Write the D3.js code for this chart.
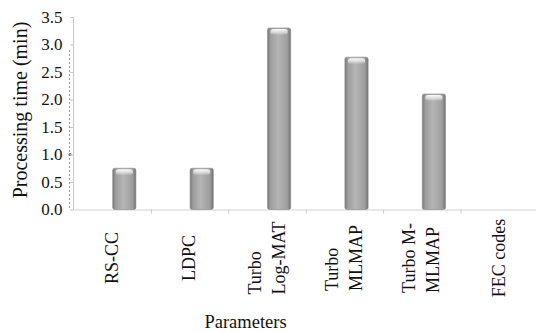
<!DOCTYPE html>
<html>
<head>
<meta charset="utf-8">
<script src="https://cdn.jsdelivr.net/npm/d3@7"></script>
<style>
  html, body { margin: 0; padding: 0; background: #fff; }
  svg { display: block; }
  text { font-family: "Liberation Serif", "Times New Roman", serif; fill: #111; }
</style>
</head>
<body>
<svg id="chart" width="536" height="331"></svg>
<script>
// Processing time per FEC scheme (minutes)
const categories = ["RS-CC", "LDPC", "Turbo Log-MAT", "Turbo MLMAP", "Turbo M-MLMAP", "FEC codes"];
const labelLines = [["RS-CC"], ["LDPC"], ["Turbo", "Log-MAT"], ["Turbo", "MLMAP"], ["Turbo M-", "MLMAP"], ["FEC codes"]];
const times = [0.75, 0.75, 3.3, 2.77, 2.1, null];
const yTicks = [0, 0.5, 1.0, 1.5, 2.0, 2.5, 3.0, 3.5];
const yTitle = "Processing time (min)";
const xTitle = "Parameters";

(function () {
const svg = d3.select("#chart");
const plotLeft = 74, plotBottom = 209.5, plotTop = 17, bandW = 77.4;
const serif = "Liberation Serif, Times New Roman, serif";

const x = d3.scaleBand().domain(categories).range([plotLeft, plotLeft + bandW * categories.length]).padding(0);
const y = d3.scaleLinear().domain([0, 3.5]).range([plotBottom, plotTop]);

// bar fill: bevelled grey
const defs = svg.append("defs");
const g1 = defs.append("linearGradient").attr("id", "barFill").attr("x1", 0).attr("x2", 1).attr("y1", 0).attr("y2", 0);
[[0, "#777777"], [0.12, "#9c9c9c"], [0.45, "#b5b5b5"], [0.85, "#9e9e9e"], [1, "#737373"]]
  .forEach(([o, c]) => g1.append("stop").attr("offset", o).attr("stop-color", c));
const g2 = defs.append("linearGradient").attr("id", "capFill").attr("x1", 0).attr("x2", 0).attr("y1", 0).attr("y2", 1);
[[0, "#ffffff", 0.95], [0.6, "#ffffff", 0.5], [1, "#ffffff", 0]]
  .forEach(([o, c, a]) => g2.append("stop").attr("offset", o).attr("stop-color", c).attr("stop-opacity", a));

// dotted guide left of the value axis
svg.append("line")
  .attr("x1", 69.5).attr("x2", 69.5).attr("y1", 50).attr("y2", plotBottom)
  .attr("stroke", "#9a9a9a").attr("stroke-width", 1).attr("stroke-dasharray", "2,2");
svg.append("circle").attr("cx", 70).attr("cy", y(1.0)).attr("r", 1.6).attr("fill", "#777");

// value axis
const yAxis = svg.append("g").attr("transform", `translate(${plotLeft},0)`)
  .call(d3.axisLeft(y).tickValues(yTicks).tickFormat(d3.format(".1f")).tickSize(4).tickPadding(7.5));
yAxis.attr("font-family", serif);
yAxis.select(".domain").attr("stroke", "#c8c8c8").attr("d", `M-0.5,${plotTop}V${plotBottom}`);
yAxis.selectAll(".tick line").attr("stroke", "#c8c8c8");
yAxis.selectAll(".tick text").attr("font-size", 17).attr("fill", "#111").attr("font-family", serif);

// category axis
const xAxis = svg.append("g").attr("transform", `translate(0,${plotBottom})`)
  .call(d3.axisBottom(x).tickValues([]).tickSizeOuter(0));
xAxis.select(".domain").attr("stroke", "#d2d2d2").attr("d", `M${plotLeft},0.5H536`);
const bounds = categories.slice(1).map(c => x(c));
xAxis.selectAll("line.sep").data(bounds).enter().append("line").attr("class", "sep")
  .attr("x1", d => d).attr("x2", d => d).attr("y1", 0).attr("y2", 4)
  .attr("stroke", "#c8c8c8");

// bars sit in the right half of each category slot
const barW = x.bandwidth() * 0.3;
const bars = svg.append("g").selectAll("g").data(categories.map((c, i) => ({c, v: times[i]})).filter(d => d.v != null))
  .enter().append("g");
bars.append("rect")
  .attr("x", d => x(d.c) + x.bandwidth() / 2)
  .attr("y", d => y(d.v))
  .attr("width", barW)
  .attr("height", d => y(0) - y(d.v))
  .attr("rx", 2)
  .attr("fill", "url(#barFill)")
  .attr("stroke", "#8a8a8a").attr("stroke-width", 0.6);
bars.append("rect")
  .attr("x", d => x(d.c) + x.bandwidth() / 2 + 3)
  .attr("y", d => y(d.v) + 1)
  .attr("width", barW - 6)
  .attr("height", 6)
  .attr("rx", 3)
  .attr("fill", "url(#capFill)");

// rotated category labels
const lineGap = 24;
const lbl = svg.append("g").selectAll("text").data(categories.map((c, i) => ({c, lines: labelLines[i]})))
  .enter().append("text")
  .attr("font-size", 18)
  .attr("font-family", serif)
  .attr("text-anchor", "middle")
  .attr("transform", d => {
    const cx = x(d.c) + x.bandwidth() / 2 + 5;
    return `translate(${cx},258) rotate(-90)`;
  });
lbl.each(function(d) {
  const n = d.lines.length;
  const t = d3.select(this);
  d.lines.forEach((s, k) => {
    t.append("tspan").attr("x", 0).attr("y", (k - (n - 1) / 2) * lineGap).text(s);
  });
});
// multi-line labels share a common start edge
lbl.each(function(d) {
  if (d.lines.length < 2) return;
  const spans = d3.select(this).selectAll("tspan").nodes();
  const widths = spans.map(s => s.getComputedTextLength());
  const w = Math.max(...widths);
  spans.forEach(s => d3.select(s).attr("text-anchor", "start").attr("x", -w / 2));
});

// axis titles
svg.append("text").attr("font-size", 20).attr("font-family", serif).attr("text-anchor", "middle")
  .attr("transform", "translate(27,110) rotate(-90)").text(yTitle);
svg.append("text").attr("font-size", 18.5).attr("font-family", serif).attr("text-anchor", "middle")
  .attr("x", 245.5).attr("y", 328).text(xTitle);
})();
</script>
</body>
</html>
